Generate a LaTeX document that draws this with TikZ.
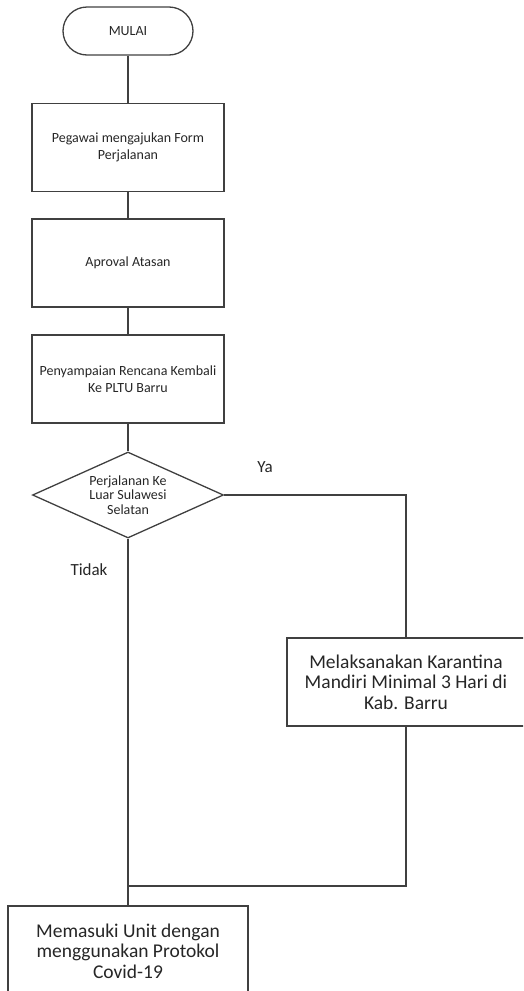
\documentclass[tikz,border=0pt]{standalone}
\usepackage{fontspec}
\setmainfont{Carlito}
\usetikzlibrary{shapes.geometric}
\definecolor{linec}{HTML}{404040}
\definecolor{txtc}{HTML}{262626}
\tikzset{
  base/.style={draw=linec, line width=1.3pt, text=txtc, align=center, inner sep=0pt},
  term/.style={base, minimum width=130pt, minimum height=48pt, rounded corners=24pt, font=\fontsize{14}{16.7}\selectfont},
  proc/.style={base, minimum width=192pt, minimum height=88pt, font=\fontsize{14}{16.7}\selectfont},
  bigproc/.style={base, minimum height=88pt, font=\fontsize{19.5}{20.5}\selectfont},
  decision/.style={base, diamond, aspect=2.22, minimum width=191pt, minimum height=86pt, font=\fontsize{14}{14.5}\selectfont},
  conn/.style={draw=linec, line width=1.3pt},
  lbl/.style={text=txtc, font=\fontsize{17}{20}\selectfont, inner sep=0pt}
}
\begin{document}
\begin{tikzpicture}[x=1pt,y=-1pt]
\useasboundingbox (0,0) rectangle (523,991);
\clip (0,0) rectangle (523,991);
\node[term] (start) at (128,31) {MULAI};
\node[proc] (b1) at (128,147.5) {Pegawai mengajukan Form\\Perjalanan};
\node[proc] (b2) at (128,263) {Aproval Atasan};
\node[proc] (b3) at (128,379) {Penyampaian Rencana Kembali\\Ke PLTU Barru};
\node[decision] (dec) at (128,495) {Perjalanan Ke\\Luar Sulawesi\\Selatan};
\node[bigproc, minimum width=238pt] (kar) at (406,682) {Melaksanakan Karantina\\Mandiri Minimal 3 Hari di\\Kab. Barru};
\node[bigproc, minimum width=240pt, minimum height=90pt] (fin) at (128,951) {Memasuki Unit dengan\\menggunakan Protokol\\Covid-19};
\coordinate (join) at (128,886);
\node[lbl] (ya) at (265,467) {Ya};
\node[lbl] (tidak) at (89,570) {Tidak};
\draw[conn] (start) -- (b1);
\draw[conn] (b1) -- (b2);
\draw[conn] (b2) -- (b3);
\draw[conn] (b3) -- (dec);
\draw[conn] (dec.east) -| (kar.north);
\draw[conn] (dec.south) -- (fin.north);
\draw[conn] (kar.south) |- (join);
\end{tikzpicture}
\end{document}
